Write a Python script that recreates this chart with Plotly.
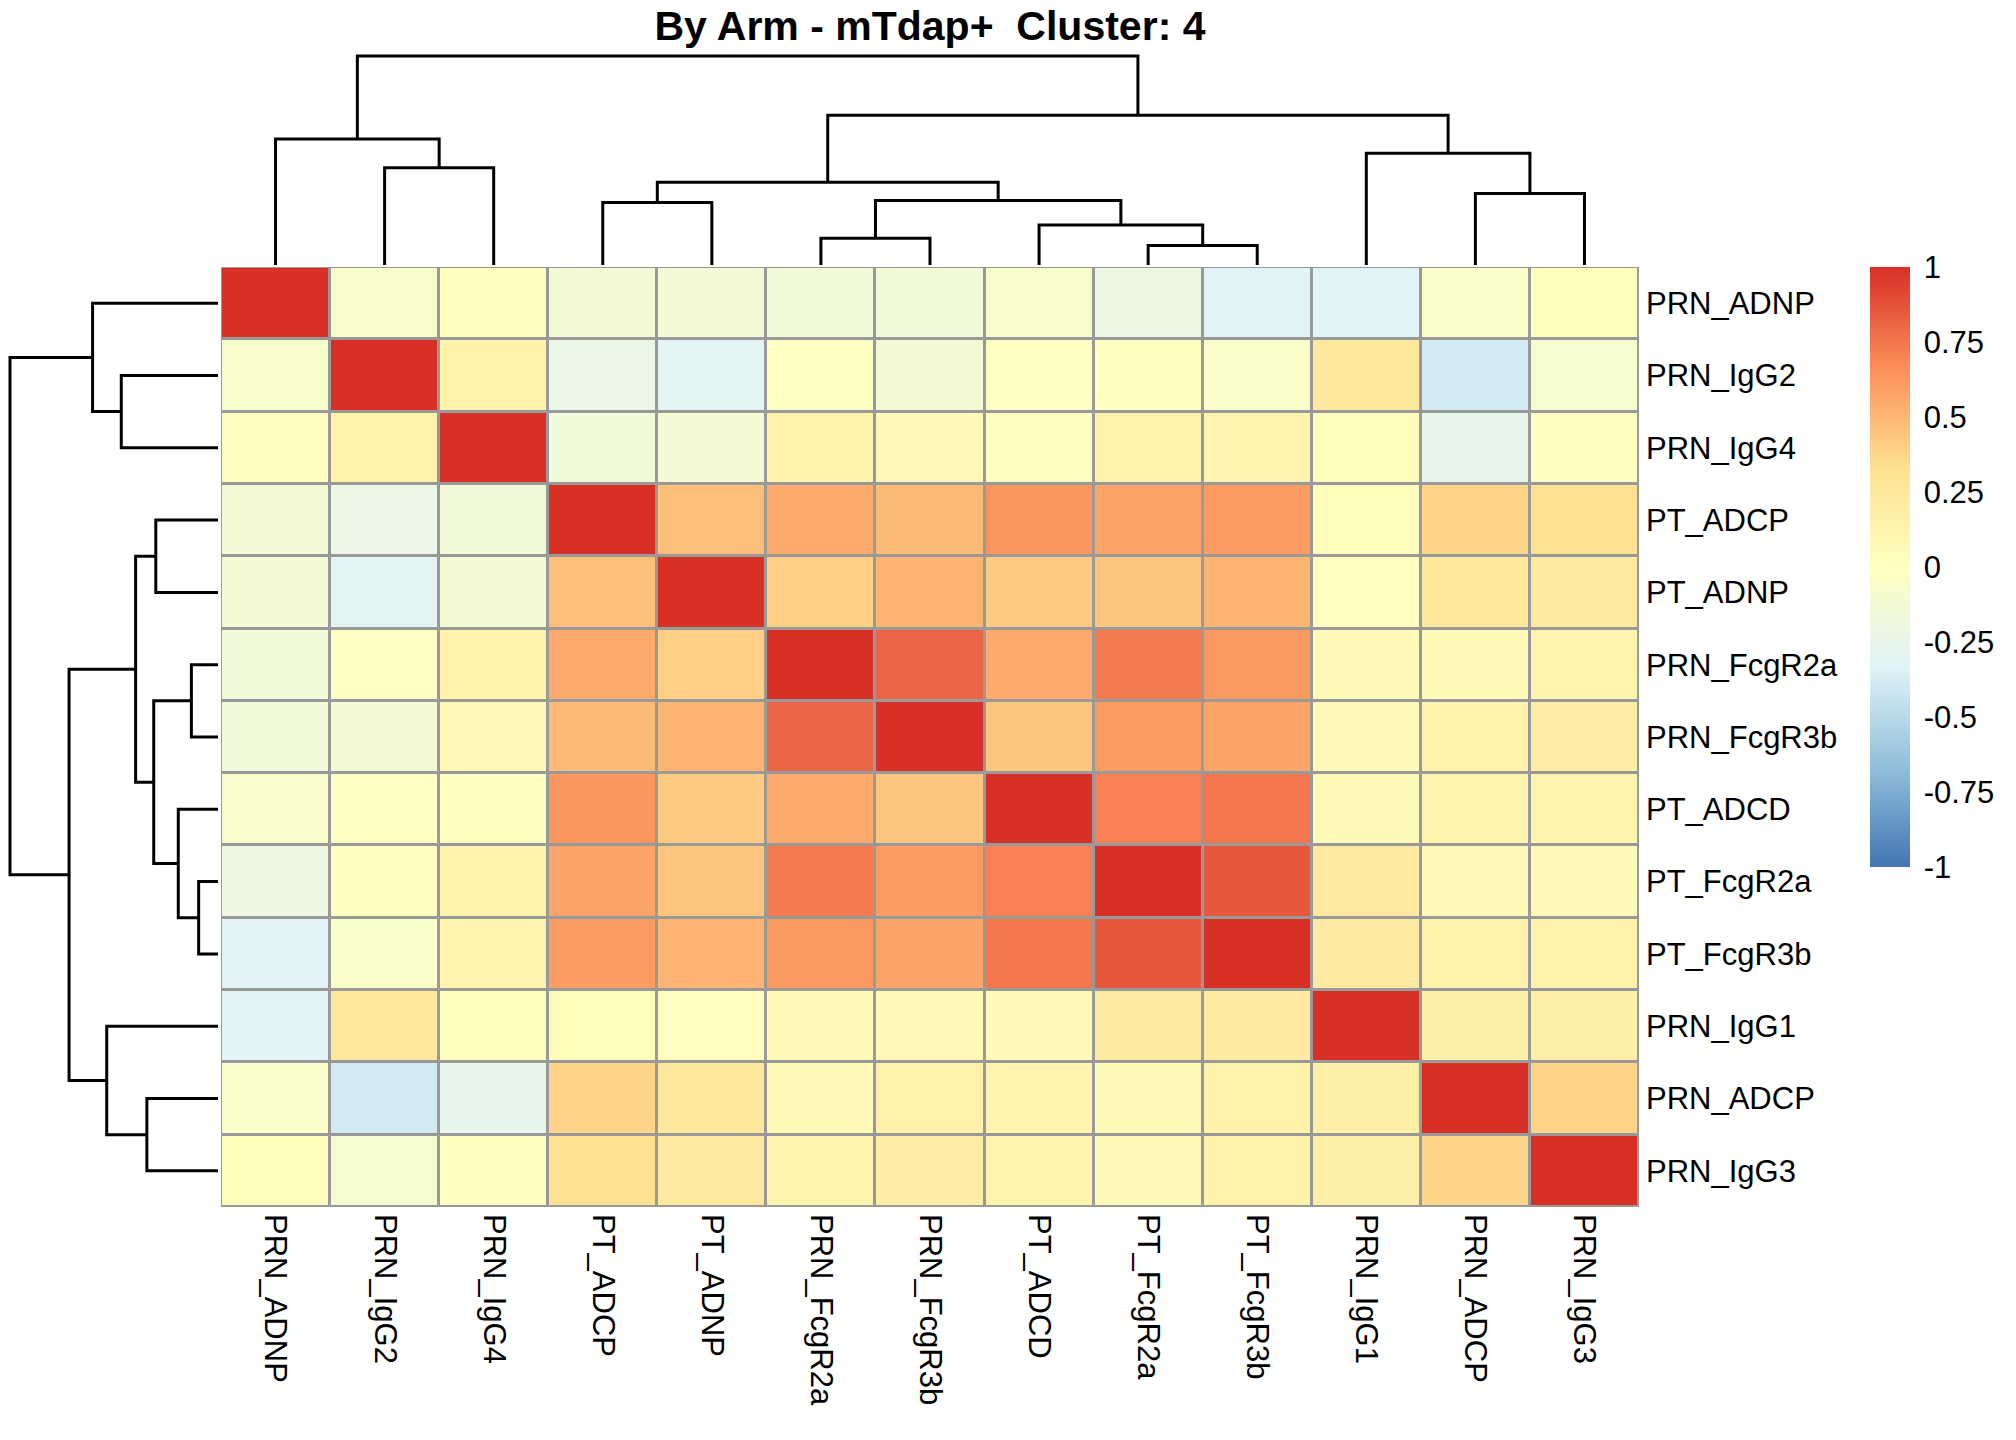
import plotly.graph_objects as go

# ---------------- data ----------------
labels = ["PRN_ADNP", "PRN_IgG2", "PRN_IgG4", "PT_ADCP", "PT_ADNP",
          "PRN_FcgR2a", "PRN_FcgR3b", "PT_ADCD", "PT_FcgR2a", "PT_FcgR3b",
          "PRN_IgG1", "PRN_ADCP", "PRN_IgG3"]

row_PRN_ADNP   = [1.00, -0.07, 0.00, -0.14, -0.14, -0.15, -0.15, -0.07, -0.20, -0.32, -0.32, -0.05, 0.02]
row_PRN_IgG2   = [-0.07, 1.00, 0.14, -0.22, -0.30, -0.03, -0.12, -0.02, -0.01, -0.05, 0.25, -0.39, -0.10]
row_PRN_IgG4   = [0.00, 0.14, 1.00, -0.15, -0.12, 0.14, 0.06, 0.00, 0.14, 0.12, 0.02, -0.26, -0.01]
row_PT_ADCP    = [-0.14, -0.22, -0.15, 1.00, 0.47, 0.55, 0.49, 0.63, 0.57, 0.61, 0.03, 0.38, 0.32]
row_PT_ADNP    = [-0.14, -0.30, -0.12, 0.47, 1.00, 0.40, 0.51, 0.42, 0.44, 0.51, 0.01, 0.25, 0.23]
row_PRN_FcgR2a = [-0.15, -0.03, 0.14, 0.55, 0.40, 1.00, 0.81, 0.55, 0.735, 0.62, 0.05, 0.05, 0.12]
row_PRN_FcgR3b = [-0.15, -0.12, 0.06, 0.49, 0.51, 0.81, 1.00, 0.44, 0.61, 0.57, 0.06, 0.15, 0.19]
row_PT_ADCD    = [-0.07, -0.02, 0.00, 0.63, 0.42, 0.55, 0.44, 1.00, 0.71, 0.75, 0.05, 0.12, 0.12]
row_PT_FcgR2a  = [-0.20, -0.01, 0.14, 0.57, 0.44, 0.735, 0.61, 0.71, 1.00, 0.86, 0.23, 0.05, 0.05]
row_PT_FcgR3b  = [-0.32, -0.05, 0.12, 0.61, 0.51, 0.62, 0.57, 0.75, 0.86, 1.00, 0.21, 0.14, 0.14]
row_PRN_IgG1   = [-0.32, 0.25, 0.02, 0.03, 0.01, 0.05, 0.06, 0.05, 0.23, 0.21, 1.00, 0.17, 0.17]
row_PRN_ADCP   = [-0.05, -0.39, -0.26, 0.38, 0.25, 0.05, 0.15, 0.12, 0.05, 0.14, 0.17, 1.00, 0.38]
row_PRN_IgG3   = [0.02, -0.10, -0.01, 0.32, 0.23, 0.12, 0.19, 0.12, 0.05, 0.14, 0.17, 0.38, 1.00]

corr_rows = [row_PRN_ADNP, row_PRN_IgG2, row_PRN_IgG4, row_PT_ADCP, row_PT_ADNP,
             row_PRN_FcgR2a, row_PRN_FcgR3b, row_PT_ADCD, row_PT_FcgR2a, row_PT_FcgR3b,
             row_PRN_IgG1, row_PRN_ADCP, row_PRN_IgG3]

# hierarchical clustering merges (same tree for rows and columns), heights relative to root
merge_left   = ["PT_FcgR2a", "PRN_FcgR2a", "PT_ADCD", "PT_ADCP", "m1", "PRN_ADCP",
                "m3", "PRN_IgG2", "PRN_IgG1", "PRN_ADNP", "m6", "m9"]
merge_right  = ["PT_FcgR3b", "PRN_FcgR3b", "m0", "PT_ADNP", "m2", "PRN_IgG3",
                "m4", "PRN_IgG4", "m5", "m7", "m8", "m10"]
merge_height = [0.093, 0.128, 0.191, 0.299, 0.309, 0.342,
                0.396, 0.465, 0.535, 0.603, 0.716, 1.000]

cbar_tickvals = [-1, -0.75, -0.5, -0.25, 0, 0.25, 0.5, 0.75, 1]
cbar_ticktext = ["-1", "-0.75", "-0.5", "-0.25", "0", "0.25", "0.5", "0.75", "1"]

title_text = "By Arm - mTdap+\u00a0 Cluster: 4"

# ---------------- layout geometry (pixels) ----------------
W, H = 2016, 1440
HM_L, HM_R, HM_T, HM_B = 221, 1639, 267, 1207
COLD_TOP, COLD_BOT = 56, 265      # column dendrogram root / leaves
ROWD_LEFT, ROWD_RIGHT = 10, 218   # row dendrogram root / leaves
PAD = 3

def fx(p):
    return p / W

def fy(p):
    return 1 - p / H

FONT = "Liberation Sans, Arial, sans-serif"
n = len(labels)

# ---------------- dendrogram segments ----------------
pos = {name: float(i) for i, name in enumerate(labels)}
hgt = {name: 0.0 for name in labels}
seg_pos, seg_h = [], []
for k, (a, b, h) in enumerate(zip(merge_left, merge_right, merge_height)):
    xa, xb = pos[a], pos[b]
    ha, hb = hgt[a], hgt[b]
    seg_pos += [xa, xa, xb, xb, None]
    seg_h += [ha, h, h, hb, None]
    pos["m%d" % k] = (xa + xb) / 2
    hgt["m%d" % k] = h

root_h = max(merge_height)

fig = go.Figure()

fig.add_trace(go.Heatmap(
    z=corr_rows, x=list(range(n)), y=list(range(n)),
    zmin=-1, zmax=1,
    colorscale=[[0, "#4575B4"], [1/6, "#91BFDB"], [2/6, "#E0F3F8"], [0.5, "#FFFFBF"],
                [4/6, "#FEE090"], [5/6, "#FC8D59"], [1, "#D73027"]],
    xgap=3, ygap=3,
    xaxis="x", yaxis="y",
    hoverinfo="skip",
    colorbar=dict(
        x=fx(1870), xanchor="left", y=fy(HM_T), yanchor="top",
        len=600, lenmode="pixels", thickness=40, thicknessmode="pixels",
        xpad=0, ypad=0, outlinewidth=0,
        ticks="outside", ticklen=8, tickcolor="rgba(0,0,0,0)",
        tickvals=cbar_tickvals, ticktext=cbar_ticktext,
        tickfont=dict(family=FONT, size=31, color="black"),
    ),
))

# column dendrogram
fig.add_trace(go.Scatter(x=seg_pos, y=seg_h, mode="lines",
                         line=dict(color="black", width=3),
                         xaxis="x2", yaxis="y2", hoverinfo="skip", showlegend=False))
# row dendrogram
fig.add_trace(go.Scatter(x=seg_h, y=seg_pos, mode="lines",
                         line=dict(color="black", width=3),
                         xaxis="x3", yaxis="y3", hoverinfo="skip", showlegend=False))

col_span = COLD_BOT - COLD_TOP
row_span = ROWD_RIGHT - ROWD_LEFT

fig.update_layout(
    width=W, height=H,
    margin=dict(l=0, r=0, t=0, b=0, pad=0),
    paper_bgcolor="white", plot_bgcolor="white",
    showlegend=False,
    font=dict(family=FONT, color="black"),
    title=dict(text=title_text, x=fx((HM_L + HM_R) / 2), xanchor="center",
               y=fy(26), yanchor="middle", xref="container", yref="container",
               font=dict(family=FONT, size=41, color="black", weight="bold")),
    xaxis=dict(domain=[fx(HM_L), fx(HM_R)], range=[-0.5, n - 0.5], anchor="y",
               tickvals=list(range(n)), ticktext=labels, tickangle=90, side="bottom",
               ticks="", showgrid=False, zeroline=False, showline=False,
               tickfont=dict(family=FONT, size=31, color="black"),
               ticklabelstandoff=6, automargin=False, fixedrange=True),
    yaxis=dict(domain=[fy(HM_B), fy(HM_T)], range=[n - 0.5, -0.5], anchor="x",
               tickvals=list(range(n)), ticktext=labels, side="right",
               ticks="", showgrid=False, zeroline=False, showline=False,
               tickfont=dict(family=FONT, size=31, color="black"),
               ticklabelstandoff=6, automargin=False, fixedrange=True),
    xaxis2=dict(domain=[fx(HM_L), fx(HM_R)], range=[-0.5, n - 0.5], anchor="y2",
                visible=False, fixedrange=True),
    yaxis2=dict(domain=[fy(COLD_BOT), fy(COLD_TOP - PAD)],
                range=[0, root_h * (col_span + PAD) / col_span], anchor="x2",
                visible=False, fixedrange=True),
    xaxis3=dict(domain=[fx(ROWD_LEFT - PAD), fx(ROWD_RIGHT)],
                range=[root_h * (row_span + PAD) / row_span, 0], anchor="y3",
                visible=False, fixedrange=True),
    yaxis3=dict(domain=[fy(HM_B), fy(HM_T)], range=[n - 0.5, -0.5], anchor="x3",
                visible=False, fixedrange=True),
    shapes=[dict(type="rect", xref="x domain", yref="y domain", x0=0, x1=1, y0=0, y1=1,
                 fillcolor="#999999", line=dict(width=0), layer="below")],
)

fig.write_html("out.html", config={"displayModeBar": False},
               post_script="document.body.style.margin='0px';")
